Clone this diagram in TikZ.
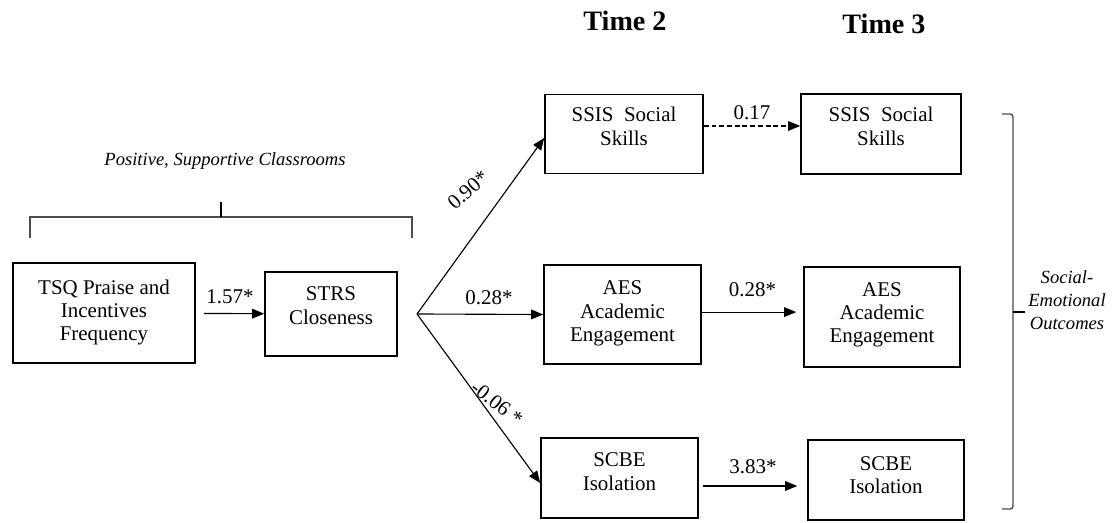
\documentclass[tikz,border=0pt]{standalone}
\usepackage{fontspec}
\setmainfont{Liberation Serif}
\usepackage{tikz}
\usetikzlibrary{arrows.meta}
\tikzset{box/.style={draw,line width=1.1pt,inner sep=0pt,font=\fontsize{14.9}{16.5}\selectfont},
         lbl/.style={font=\fontsize{14.9}{16.5}\selectfont},
         ital/.style={align=center,font=\fontsize{13.2}{16.3}\selectfont\itshape},
         hdr/.style={font=\fontsize{20}{24}\selectfont\bfseries},
         brk/.style={draw=black!70,line width=1pt}}
% lines of a box, raised by #1
\newcommand{\boxlines}[2]{\raisebox{#1}[0pt][0pt]{\begin{tabular}{@{}c@{}}#2\end{tabular}}}

\begin{document}
\begin{tikzpicture}[x=0.025cm,y=-0.025cm,>={Triangle[length=0.3cm,width=0.24cm]},line width=0.8pt]
    \useasboundingbox (0,0) rectangle (1118,523);

    \node[hdr] (t2) at (625,21) {Time 2};
    \node[hdr] (t3) at (884,24) {Time 3};

    \node[box,minimum width=4.55cm,minimum height=2.5cm] (tsq) at (104,313) {\boxlines{-3.5pt}{TSQ Praise and\\Incentives\\Frequency}};
    \node[box,minimum width=3.3cm,minimum height=2.1cm] (strs) at (331,314) {\boxlines{0.7pt}{STRS\\Closeness}};
    \node[box,minimum width=3.95cm,minimum height=1.98cm] (ssis2) at (624,134) {\boxlines{0pt}{SSIS\hspace{0.5em}Social\\Skills}};
    \node[box,minimum width=3.925cm,minimum height=2.475cm] (aes2) at (622.5,314.5) {\boxlines{-2.8pt}{AES\\Academic\\Engagement}};
    \node[box,minimum width=3.925cm,minimum height=2cm] (scbe2) at (619.5,478) {\boxlines{-0.7pt}{SCBE\\Isolation}};
    \node[box,minimum width=4cm,minimum height=2cm] (ssis3) at (881,134) {\boxlines{0pt}{SSIS\hspace{0.5em}Social\\Skills}};
    \node[box,minimum width=3.9cm,minimum height=2.5cm] (aes3) at (882,317) {\boxlines{-2pt}{AES\\Academic\\Engagement}};
    \node[box,minimum width=3.9cm,minimum height=2cm] (scbe3) at (886,480) {\boxlines{-2pt}{SCBE\\Isolation}};

    % bracket over the classroom measures
    \node[ital] (pos) at (225,161) {Positive, Supportive Classrooms};
    \draw[brk] (30,238) -- (30,217) -- (412,217) -- (412,238);
    \draw[line width=1.8pt] (221,202) -- (221,217);

    % bracket round the outcomes
    \node[ital] (seo) at (1067,300) {Social-\\Emotional\\Outcomes};
    \draw[brk,rounded corners=2pt] (1002,114) -- (1013,114) -- (1013,509) -- (1002,509);
    \draw[line width=1.8pt] (1013,312) -- (1025,312);

    \draw [->,shorten <=0.2cm] (tsq) -- (strs) node[lbl,midway,above=3pt]{1.57*};

    \coordinate (fan) at (417,314);
    \draw [->] (fan) -- ([yshift=-0.1cm]ssis2.west);
    \draw [->] (fan) -- (aes2.west) node[lbl,pos=0.57,above=3pt]{0.28*};
    \draw [->] (fan) -- ([yshift=-0.125cm]scbe2.west);
    \node[lbl,rotate=42] (l090) at (468,190) {0.90*};
    \node[lbl,rotate=-38] (l006) at (497,403) {-0.06 *};

    \draw [->,dash pattern=on 3.5pt off 2pt] ([yshift=0.2cm]ssis2.east) -- ([yshift=0.2cm]ssis2.east -| ssis3.west) node[lbl,midway,above=0.5pt]{0.17};
    \draw [->,shorten >=0.175cm] ([yshift=0.06cm]aes2.east) -- ([yshift=0.06cm]aes2.east -| aes3.west) node[lbl,midway,above=7pt]{0.28*};
    \draw [->,shorten <=0.1cm,shorten >=0.25cm] ([yshift=-0.2cm]scbe2.east) -- ([yshift=-0.2cm]scbe2.east -| scbe3.west) node[lbl,midway,above=5pt]{3.83*};
\end{tikzpicture}
\end{document}
